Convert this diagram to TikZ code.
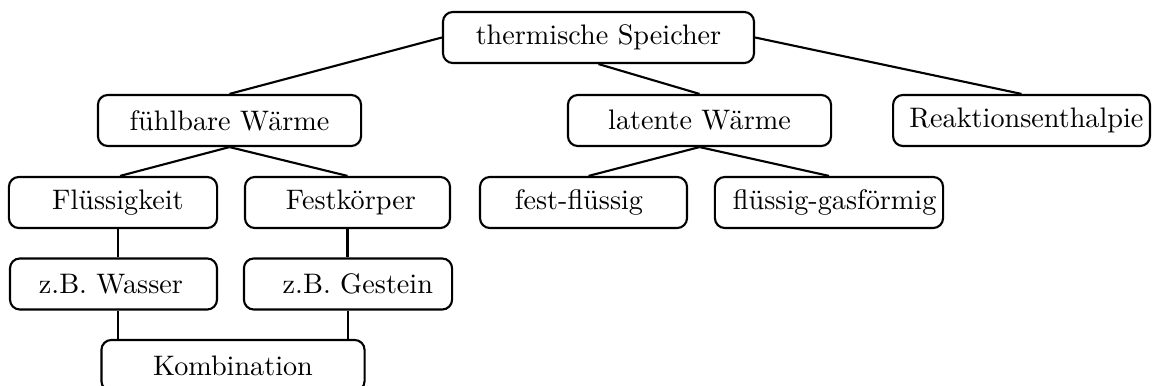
\documentclass[tikz,border=0pt]{standalone}
\newcommand\txR[2]{\hspace*{#1}#2}
\newcommand\txL[2]{#2\hspace*{#1}}
\begin{document}
\begin{tikzpicture}[x=0.3546pt,y=-0.3546pt,
  box/.style={draw, line width=0.75pt, rounded corners=3.5pt, minimum height=18.1pt, inner xsep=1.5pt, inner ysep=0pt, font=\normalsize},
  conn/.style={line width=0.75pt}]
\useasboundingbox (0,0) rectangle (1152,386);
\node[box, minimum width=110.3pt] (ts) at (598.5,37.5) {thermische Speicher};
\node[box, minimum width=93.3pt] (fw) at (229.5,120.5) {fühlbare Wärme};
\node[box, minimum width=93.3pt] (lw) at (699.5,120.5) {latente Wärme};
\node[box, minimum width=91.1pt] (re) at (1021.5,120.5) {\txR{3.5pt}{Reaktionsenthalpie}};
\node[box, minimum width=73.8pt] (fl) at (113,202.5) {\txR{3.5pt}{Flüssigkeit}};
\node[box, minimum width=72.7pt] (fk) at (347.5,202.5) {\txR{2.4pt}{Festkörper}};
\node[box, minimum width=73.4pt] (ff) at (583.5,202.5) {\txL{3.2pt}{fest-flüssig}};
\node[box, minimum width=80.9pt] (fg) at (829,202.5) {\txR{4pt}{flüssig-gasförmig}};
\node[box, minimum width=73.4pt] (zw) at (113.5,284) {\txL{1.8pt}{z.B. Wasser}};
\node[box, minimum width=73.8pt] (zg) at (348,284) {\txR{7pt}{z.B. Gestein}};
\node[box, minimum width=93.3pt] (ko) at (233,365.5) {Kombination};
\draw[conn] (ts.west) -- (fw.north);
\draw[conn] (ts.south) -- (lw.north);
\draw[conn] (ts.east) -- (re.north);
\draw[conn] (fw.south) -- ([xshift=2.5pt]fl.north);
\draw[conn] (fw.south) -- (fk.north);
\draw[conn] (lw.south) -- ([xshift=1.8pt]ff.north);
\draw[conn] (lw.south) -- (fg.north);
\draw[conn] ([xshift=1.8pt]fl.south) -- ([xshift=1.8pt]fl.south |- zw.north);
\draw[conn] (fk.south) -- (fk.south |- zg.north);
\draw[conn] ([xshift=1.6pt]zw.south) -- ([xshift=1.6pt]zw.south |- ko.north);
\draw[conn] (zg.south) -- (zg.south |- ko.north);
\end{tikzpicture}
\end{document}
